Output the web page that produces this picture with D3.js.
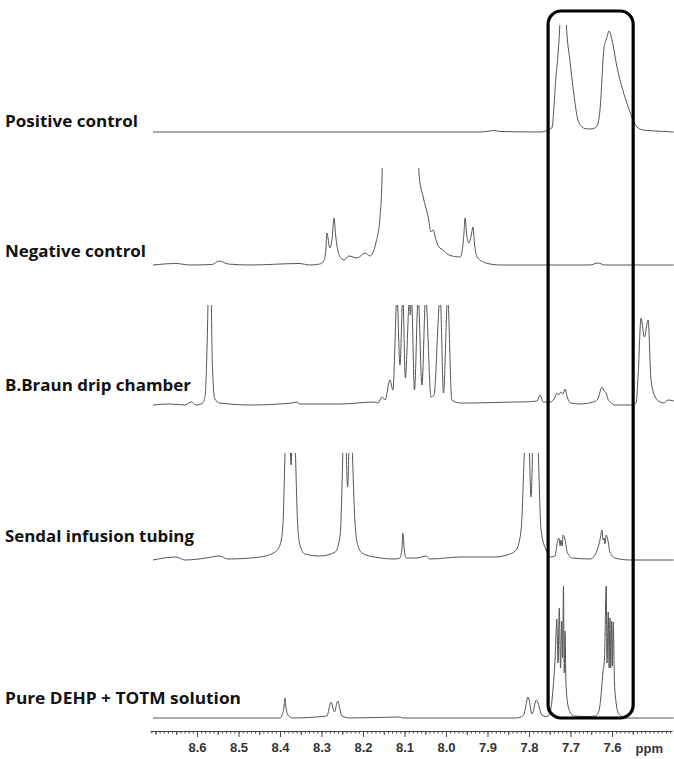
<!DOCTYPE html>
<html><head><meta charset="utf-8">
<script src="https://cdn.jsdelivr.net/npm/d3@7"></script>
<style>body{margin:0;background:#fff}</style>
</head><body>
<svg id="chart" width="674" height="759"></svg>
<script>
// [ppm, intensity]
const positiveControl = [[8.706,0],[7.918,0],[7.894,1],[7.884,1.5],[7.870,0.5],[7.773,0],[7.754,2],[7.745,4],[7.735,55],[7.730,78],[7.725,115],[7.720,200],[7.716,200],[7.711,115],[7.701,70],[7.694,45],[7.682,12],[7.672,5],[7.665,3.5],[7.653,3],[7.641,4],[7.634,8],[7.629,22],[7.619,85],[7.614,92],[7.607,101],[7.600,92],[7.588,65],[7.574,42],[7.561,25],[7.552,15],[7.540,5],[7.525,2],[7.496,1],[7.451,0]];

const negativeControl = [[8.706,0],[8.651,1.5],[8.617,0],[8.564,0.5],[8.547,4],[8.525,1],[8.472,0],[8.354,1.5],[8.328,0],[8.304,1],[8.295,4],[8.290,12],[8.287,32],[8.280,17],[8.274,28],[8.270,47],[8.266,30],[8.263,20],[8.255,8],[8.246,5],[8.234,9],[8.214,7],[8.195,12],[8.183,9],[8.169,22],[8.159,48],[8.154,90],[8.151,200],[8.111,500],[8.069,200],[8.065,90],[8.055,68],[8.043,48],[8.036,33],[8.031,35],[8.024,25],[8.017,18],[8.007,15],[7.993,10],[7.966,8],[7.961,14],[7.957,30],[7.954,47],[7.950,30],[7.945,22],[7.939,30],[7.935,38],[7.931,20],[7.925,8],[7.904,2],[7.870,0],[7.653,0],[7.634,2],[7.617,0],[7.451,0]];

const bBraun = [[8.706,0],[8.665,1],[8.629,0],[8.614,3],[8.602,0],[8.586,2],[8.581,8],[8.577,40],[8.573,120],[8.570,250],[8.566,120],[8.563,40],[8.557,6],[8.545,2],[8.472,0],[8.371,2],[8.361,3],[8.352,1],[8.255,1],[8.173,3],[8.164,2],[8.154,8],[8.147,5],[8.135,25],[8.128,15],[8.118,108],[8.111,40],[8.104,108],[8.098,27],[8.088,106],[8.086,90],[8.083,106],[8.076,15],[8.067,108],[8.058,20],[8.049,108],[8.036,8],[8.029,10],[8.014,108],[8.006,12],[7.996,108],[7.986,5],[7.966,2],[7.935,2],[7.836,3],[7.817,3],[7.781,4],[7.773,10],[7.766,3],[7.749,3],[7.737,8],[7.733,12],[7.728,10],[7.723,13],[7.718,11],[7.713,16],[7.708,8],[7.699,2],[7.677,1],[7.646,3],[7.634,6],[7.629,13],[7.624,18],[7.619,14],[7.614,12],[7.610,6],[7.602,2],[7.593,0],[7.557,0],[7.542,2],[7.537,30],[7.530,87],[7.522,68],[7.513,85],[7.506,25],[7.496,8],[7.484,3],[7.475,2],[7.465,5],[7.451,4]];

const sendal = [[8.706,0],[8.651,3],[8.629,0],[8.578,2],[8.547,4],[8.525,1],[8.448,3],[8.412,8],[8.400,15],[8.393,35],[8.387,120],[8.381,180],[8.373,95],[8.369,180],[8.363,110],[8.358,40],[8.352,15],[8.340,6],[8.304,4],[8.267,8],[8.255,25],[8.249,100],[8.245,170],[8.237,73],[8.230,170],[8.225,100],[8.219,35],[8.212,14],[8.202,7],[8.173,3],[8.123,1],[8.111,2],[8.106,12],[8.104,27],[8.101,12],[8.096,2],[8.070,2],[8.060,3],[8.048,4],[8.039,1],[7.966,3],[7.952,3],[7.882,3],[7.853,5],[7.831,10],[7.819,30],[7.811,110],[7.804,180],[7.795,63],[7.787,180],[7.778,110],[7.771,30],[7.759,10],[7.749,3],[7.737,4],[7.733,15],[7.728,22],[7.725,14],[7.723,20],[7.720,14],[7.718,25],[7.713,20],[7.708,8],[7.696,2],[7.653,1],[7.641,5],[7.629,20],[7.624,30],[7.622,20],[7.619,22],[7.617,16],[7.614,25],[7.610,20],[7.605,8],[7.593,2],[7.557,0],[7.451,0]];

const dehpTotm = [[8.706,0],[8.400,0],[8.395,3],[8.390,12],[8.388,20],[8.386,12],[8.381,3],[8.370,0],[8.287,2],[8.277,16],[8.269,6],[8.261,17],[8.251,2],[8.230,0],[8.111,1],[8.104,0],[7.830,0],[7.813,3],[7.802,21],[7.793,4],[7.782,18],[7.769,3],[7.759,1.5],[7.754,2],[7.747,10],[7.742,30],[7.737,60],[7.733,99],[7.730,55],[7.727,110],[7.724,50],[7.721,97],[7.719,60],[7.717,132],[7.715,45],[7.713,87],[7.711,35],[7.707,15],[7.701,6],[7.692,2],[7.660,1.5],[7.639,2],[7.631,8],[7.627,20],[7.622,45],[7.618,60],[7.614,132],[7.612,55],[7.609,106],[7.607,50],[7.605,100],[7.603,50],[7.601,97],[7.599,52],[7.597,96],[7.594,35],[7.590,15],[7.586,6],[7.578,2],[7.569,0],[7.451,0]];

const traceNames = ["Positive control","Negative control","B.Braun drip chamber","Sendal infusion tubing","Pure DEHP + TOTM solution"];
const tickLabels = ["8.6","8.5","8.4","8.3","8.2","8.1","8.0","7.9","7.8","7.7","7.6"];
const axisUnit = "ppm";
const highlightRange = [7.754, 7.549];

const svg = d3.select("#chart");
const x = d3.scaleLinear().domain([8.6, 7.6]).range([197, 612]);

const layout = [
  {data: positiveControl, base: 132, clip: 107, labelY: 127, labelW: 133},
  {data: negativeControl, base: 265, clip: 97,  labelY: 257, labelW: 141},
  {data: bBraun,          base: 405, clip: 100, labelY: 391, labelW: 186},
  {data: sendal,          base: 560, clip: 107, labelY: 542, labelW: 189},
  {data: dehpTotm,        base: 718, clip: 400, labelY: 704, labelW: 236}
];

const defs = svg.append("defs");
layout.forEach((t, i) => {
  const y = d3.scaleLinear().domain([0, 100]).range([t.base, t.base - 100]);
  defs.append("clipPath").attr("id", "clip" + i)
    .append("rect").attr("x", 0).attr("width", 674)
    .attr("y", y(t.clip)).attr("height", 759 - y(t.clip));
  const line = d3.line().x(d => x(d[0])).y(d => y(d[1])).curve(d3.curveMonotoneX);
  svg.append("path").datum(t.data)
    .attr("clip-path", `url(#clip${i})`)
    .attr("d", line)
    .attr("fill", "none").attr("stroke", "#555").attr("stroke-width", 1);
  svg.append("text").attr("x", 5).attr("y", t.labelY)
    .attr("font-family", "'Open Sans', sans-serif").attr("font-weight", 700)
    .attr("font-size", 16).attr("fill", "#111")
    .attr("textLength", t.labelW).attr("lengthAdjust", "spacingAndGlyphs")
    .text(traceNames[i]);
});

// axis
const axisY = 731;
const xa = d3.scaleLinear().domain([8.713, 7.455]).range([x(8.713), x(7.455)]);
const minor = d3.range(0, 126).map(i => +(8.71 - i * 0.01).toFixed(2));
const medium = minor.filter(v => Math.round(v * 100) % 5 === 0 && Math.round(v * 100) % 10 !== 0);
const majorVals = tickLabels.map(Number);

svg.append("g").attr("transform", `translate(0,${axisY})`)
  .call(d3.axisBottom(xa).tickValues(minor).tickSize(2.5).tickSizeOuter(0).tickFormat(""))
  .call(g => g.selectAll("line,path").attr("stroke", "#444"));
svg.append("g").attr("transform", `translate(0,${axisY})`)
  .call(d3.axisBottom(xa).tickValues(medium.concat([8.7])).tickSize(4).tickSizeOuter(0).tickFormat(""))
  .call(g => g.select(".domain").remove())
  .call(g => g.selectAll("line").attr("stroke", "#444"));
const major = svg.append("g").attr("transform", `translate(0,${axisY})`)
  .call(d3.axisBottom(xa).tickValues(majorVals).tickSize(6).tickSizeOuter(0).tickPadding(6)
    .tickFormat((d, i) => tickLabels[i]))
  .call(g => g.select(".domain").remove())
  .call(g => g.selectAll("line").attr("stroke", "#444"));
major.selectAll("text").attr("font-family", "'Liberation Sans', Arial, sans-serif")
  .attr("font-weight", 700).attr("font-size", 13).attr("fill", "#333");
svg.append("text").attr("x", x(7.51)).attr("y", axisY + 22).attr("text-anchor", "middle")
  .attr("font-family", "'Liberation Sans', Arial, sans-serif").attr("font-weight", 700)
  .attr("font-size", 13).attr("fill", "#333").text(axisUnit);

// highlight box
svg.append("rect")
  .attr("x", x(highlightRange[0])).attr("width", x(highlightRange[1]) - x(highlightRange[0]))
  .attr("y", 11).attr("height", 718 - 11)
  .attr("rx", 13).attr("ry", 13)
  .attr("fill", "none").attr("stroke", "#000").attr("stroke-width", 3.2);
</script>
</body></html>
